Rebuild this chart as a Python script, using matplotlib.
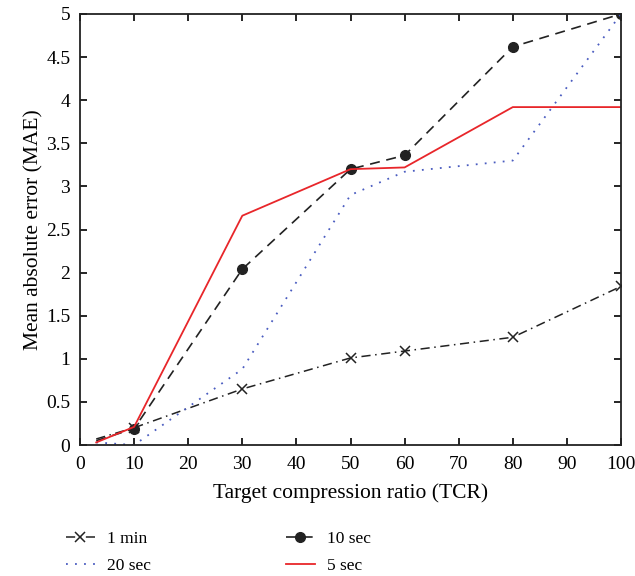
import matplotlib
matplotlib.use("Agg")
import matplotlib.pyplot as plt

x = [3, 10, 30, 50, 60, 80, 100]
mae_1min = [0.07, 0.20, 0.65, 1.01, 1.09, 1.25, 1.84]
mae_10sec = [0.05, 0.19, 2.04, 3.20, 3.36, 4.62, 5.00]
mae_20sec = [0.03, 0.00, 0.88, 2.90, 3.17, 3.30, 5.00]
mae_5sec = [0.03, 0.21, 2.66, 3.20, 3.22, 3.92, 3.92]

xticks = list(range(0, 101, 10))
yticks = [0, 0.5, 1, 1.5, 2, 2.5, 3, 3.5, 4, 4.5, 5]
ytick_labels = ["0", "0.5", "1", "1.5", "2", "2.5", "3", "3.5", "4", "4.5", "5"]

plt.rcParams['font.family'] = ['Liberation Serif', 'DejaVu Serif']

fig = plt.figure(figsize=(6.35, 5.76), dpi=100)
ax = fig.add_axes([80/635, 1-445/576, (621-80)/635, (445-14)/576])

l1, = ax.plot(x, mae_1min, color='#222222', linestyle=(0, (6, 3, 1, 3)), lw=1.1,
              marker='x', markersize=7, markeredgewidth=1.1, markevery=slice(1, None), label='1 min')
l2, = ax.plot(x, mae_10sec, color='#222222', linestyle=(0, (6, 4)), lw=1.2,
              marker='o', markersize=7, markevery=slice(1, None), label='10 sec')
l3, = ax.plot(x, mae_20sec, color='#4a5cc0', linestyle=(0, (1, 4)), lw=1.3, label='20 sec')
l4, = ax.plot(x, mae_5sec, color='#e8262a', lw=1.3, label='5 sec')

ax.set_xlim(0, 100)
ax.set_ylim(0, 5)
ax.set_xticks(xticks)
ax.set_yticks(yticks)
ax.set_yticklabels(ytick_labels)
ax.tick_params(direction='in', top=True, right=True, length=5, width=1.2, labelsize=14)
ax.tick_params(axis='y', pad=7)
ax.tick_params(axis='x', pad=8)
for s in ax.spines.values():
    s.set_linewidth(1.3)
    s.set_color('#222222')
ax.set_xlabel('Target compression ratio (TCR)', fontsize=15.5, labelpad=7)
ax.set_ylabel('Mean absolute error (MAE)', fontsize=15.5, labelpad=2)

fig.legend(handles=[l1, l3, l2, l4], labels=['1 min', '20 sec', '10 sec', '5 sec'],
           ncol=2, loc='upper left', bbox_to_anchor=(66/635, 1-531/576), frameon=False,
           borderpad=0, borderaxespad=0,
           fontsize=12.5, handlelength=1.65, columnspacing=7.8, labelspacing=0.6, handletextpad=0.7)

fig.savefig('out.png', dpi=100)
